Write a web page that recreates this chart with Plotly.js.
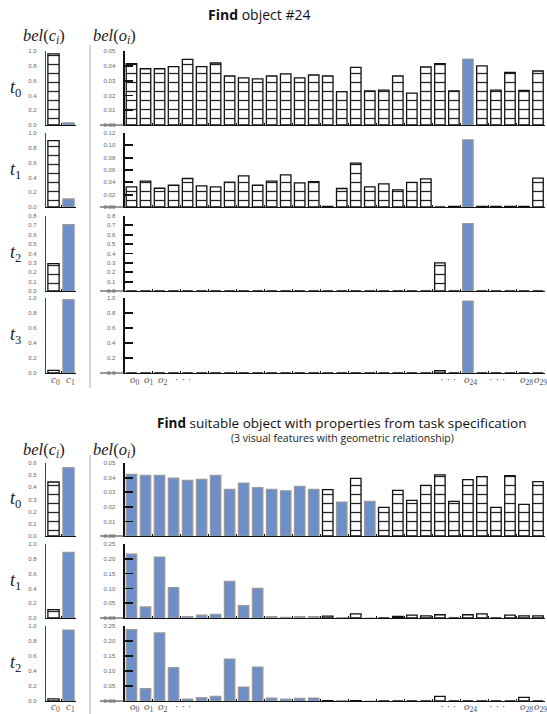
<!DOCTYPE html>
<html><head><meta charset="utf-8">
<script src="https://cdn.plot.ly/plotly-3.0.1.min.js"></script>
<style>html,body{margin:0;padding:0;background:#fff;}</style>
</head><body><div id="chart" style="width:547px;height:714px"></div>
<script>
// ---------- data ----------
const cCategories = ['c0', 'c1'];
const oCategories = ['o0','o1','o2','o3','o4','o5','o6','o7','o8','o9','o10','o11','o12','o13','o14',
                     'o15','o16','o17','o18','o19','o20','o21','o22','o23','o24','o25','o26','o27','o28','o29'];

// "Find object #24"
const topHighlightC = ['c1'];
const topHighlightO = ['o24'];
const topT0C = [0.96, 0.03];
const topT0O = [0.0414,0.038,0.038,0.0394,0.0444,0.0394,0.0419,0.0331,0.0318,0.0311,0.0331,0.0345,0.0318,0.0338,0.0331,
                0.0225,0.039,0.023,0.0236,0.0331,0.0216,0.0392,0.0414,0.023,0.0446,0.040,0.0236,0.0356,0.0234,0.0365];
const topT1C = [0.896, 0.109];
const topT1O = [0.0326,0.0418,0.0304,0.0353,0.0462,0.0342,0.0326,0.0402,0.0505,0.0353,0.0418,0.0521,0.0391,0.0413,0.0008,
                0.030,0.0711,0.0326,0.0375,0.0277,0.040,0.0456,0,0.0008,0.109,0.0008,0.0008,0.0008,0.0008,0.0467];
const topT2C = [0.293, 0.707];
const topT2O = [0,0,0,0,0,0,0,0,0,0,0,0,0,0,0,0,0,0,0,0,0,0,0.30,0,0.718,0,0,0,0,0];
const topT3C = [0.036, 0.977];
const topT3O = [0,0,0,0,0,0,0,0,0,0,0,0,0,0,0,0,0,0,0,0,0,0,0.03,0,0.96,0,0,0,0,0];

// "Find suitable object with properties from task specification"
const botHighlightC = ['c1'];
const botHighlightO = ['o0','o1','o2','o3','o4','o5','o6','o7','o8','o9','o10','o11','o12','o13','o15','o17'];
const botT0C = [0.444, 0.562];
const botT0O = [0.0422,0.0416,0.0416,0.0397,0.0381,0.0388,0.0416,0.032,0.0363,0.0331,0.032,0.031,0.034,0.032,0.0317,
                0.0233,0.0395,0.0237,0.0196,0.0313,0.0244,0.0347,0.0418,0.0237,0.0386,0.0406,0.0196,0.0413,0.0217,0.0372];
const botT1C = [0.114, 0.886];
const botT1O = [0.216,0.0375,0.206,0.103,0.0045,0.010,0.0125,0.124,0.042,0.100,0.0045,0.002,0.0045,0.0045,0.006,
                0.001,0.0136,0,0,0.005,0.010,0.007,0.011,0,0.011,0.0136,0,0.010,0.007,0.007];
const botT2C = [0.027, 0.947];
const botT2O = [0.238,0.041,0.227,0.111,0.0067,0.011,0.0156,0.14,0.0467,0.113,0.01,0.0067,0.009,0.01,0.001,
                0.001,0.001,0,0,0,0,0,0.0156,0,0,0,0,0,0.012,0];

// ---------- layout helpers ----------
const W = 547, H = 714;
const BLUE = '#6d8fc9';
const px = v => v / W;
const py = v => 1 - v / H;

const panels = [
  {label:'0', c:topT0C, o:topT0O, hc:topHighlightC, ho:topHighlightO, top:51,  bot:125, cMax:1.0, cStep:0.2, cFmt:'.1f', oMax:0.05, oStep:0.01, oFmt:'.2f'},
  {label:'1', c:topT1C, o:topT1O, hc:topHighlightC, ho:topHighlightO, top:133, bot:207, cMax:1.0, cStep:0.2, cFmt:'.1f', oMax:0.12, oStep:0.02, oFmt:'.2f'},
  {label:'2', c:topT2C, o:topT2O, hc:topHighlightC, ho:topHighlightO, top:216, bot:291, cMax:0.8, cStep:0.1, cFmt:'.1f', oMax:0.8,  oStep:0.1,  oFmt:'.1f'},
  {label:'3', c:topT3C, o:topT3O, hc:topHighlightC, ho:topHighlightO, top:298, bot:373, cMax:1.0, cStep:0.2, cFmt:'.1f', oMax:1.0,  oStep:0.2,  oFmt:'.1f'},
  {label:'0', c:botT0C, o:botT0O, hc:botHighlightC, ho:botHighlightO, top:463, bot:536, cMax:0.6, cStep:0.1, cFmt:'.1f', oMax:0.05, oStep:0.01, oFmt:'.2f'},
  {label:'1', c:botT1C, o:botT1O, hc:botHighlightC, ho:botHighlightO, top:544, bot:618, cMax:1.0, cStep:0.2, cFmt:'.1f', oMax:0.25, oStep:0.05, oFmt:'.2f'},
  {label:'2', c:botT2C, o:botT2O, hc:botHighlightC, ho:botHighlightO, top:626, bot:701, cMax:1.0, cStep:0.2, cFmt:'.1f', oMax:0.25, oStep:0.05, oFmt:'.2f'}
];

const C_DOM = [px(46), px(76)];
const O_DOM = [px(124.5), px(545)];

function ticks(max, step) {
  const out = [];
  const n = Math.round(max / step);
  for (let i = 0; i <= n; i++) out.push(+(i * step).toFixed(4));
  return out;
}

// two traces per panel: plain (hatched white) and highlighted (blue)
function barTraces(cats, vals, hl, xa, ya) {
  const plainX = [], plainY = [], hlX = [], hlY = [];
  cats.forEach((c, j) => {
    if (hl.includes(c)) { hlX.push(c); hlY.push(vals[j]); }
    else { plainX.push(c); plainY.push(vals[j]); }
  });
  return [
    {type: 'bar', x: plainX, y: plainY, xaxis: xa, yaxis: ya, width: 0.75, showlegend: false,
     marker: {color: '#ffffff', line: {color: '#111111', width: 1.3},
              pattern: {shape: '-', fillmode: 'replace', bgcolor: '#ffffff', fgcolor: '#222222', size: 9, solidity: 0.14}}},
    {type: 'bar', x: hlX, y: hlY, xaxis: xa, yaxis: ya, width: 0.75, showlegend: false,
     marker: {color: BLUE, line: {color: '#9a9a9a', width: 1.2}}}
  ];
}

const data = [];
const layout = {
  width: W, height: H, margin: {l:0, r:0, t:0, b:0},
  paper_bgcolor: '#fff', plot_bgcolor: 'rgba(0,0,0,0)',
  showlegend: false, barmode: 'overlay',
  font: {family: 'Liberation Sans, Arial, sans-serif', size: 6, color: '#555'},
  annotations: [], shapes: []
};

const tickFont = {family: 'Liberation Sans, Arial, sans-serif', size: 6, color: '#666'};

function ann(o) {
  return Object.assign({showarrow: false, xanchor: 'center', yanchor: 'middle'}, o);
}

panels.forEach((p, i) => {
  const kc = 2 * i + 1, ko = 2 * i + 2;
  const yDom = [py(p.bot), py(p.top)];
  data.push(...barTraces(cCategories, p.c, p.hc, 'x' + kc, 'y' + kc));
  data.push(...barTraces(oCategories, p.o, p.ho, 'x' + ko, 'y' + ko));

  const xBase = {type: 'category', showline: true, linecolor: '#111', linewidth: 1.3,
    ticks: 'inside', tickson: 'boundaries', ticklen: 2, tickwidth: 1, tickcolor: '#111',
    showticklabels: false, showgrid: false, zeroline: false, fixedrange: true};
  layout['xaxis' + kc] = Object.assign({}, xBase, {domain: C_DOM, anchor: 'y' + kc, range: [-0.5, 1.5],
    categoryorder: 'array', categoryarray: cCategories});
  layout['xaxis' + ko] = Object.assign({}, xBase, {domain: O_DOM, anchor: 'y' + ko, range: [-0.5, 29.5],
    categoryorder: 'array', categoryarray: oCategories});

  layout['yaxis' + kc] = {domain: yDom, anchor: 'x' + kc, range: [0, p.cMax],
    tickvals: ticks(p.cMax, p.cStep), tickformat: p.cFmt, ticks: '', showline: true,
    linecolor: '#444', linewidth: 1.2, showgrid: false, zeroline: false, tickfont: tickFont,
    ticklabelstandoff: 7, fixedrange: true};
  layout['yaxis' + ko] = {domain: yDom, anchor: 'x' + ko, range: [0, p.oMax],
    tickvals: ticks(p.oMax, p.oStep), tickformat: p.oFmt, ticks: 'inside', ticklen: 8,
    tickwidth: 1.8, tickcolor: '#111', showline: true, linecolor: '#111', linewidth: 2,
    showgrid: false, zeroline: false, tickfont: tickFont, ticklabelstandoff: 6, fixedrange: true};

  // x-axis line extending left of the object panel
  layout.shapes.push({type: 'line', xref: 'paper', yref: 'paper', x0: px(100), x1: px(125),
    y0: py(p.bot), y1: py(p.bot), line: {color: '#333', width: 1}});

  // t label
  layout.annotations.push(ann({xref: 'paper', yref: 'paper', x: px(15), y: py((p.top + p.bot) / 2),
    text: '<i>t</i><sub>' + p.label + '</sub>',
    font: {family: 'Liberation Serif, DejaVu Serif, serif', size: 18, color: '#222'}}));
});

const serif = {family: 'Liberation Serif, DejaVu Serif, serif', size: 16.5, color: '#222'};
const labelFont = {family: 'Liberation Serif, DejaVu Serif, serif', size: 11, color: '#555'};
const sans = 'Open Sans, Liberation Sans, sans-serif';

// titles
layout.annotations.push(
  ann({xref:'paper', yref:'paper', x:px(259), y:py(14), text:'<b>Find</b> object #24',
   font:{family:sans, size:14, color:'#111'}}),
  ann({xref:'paper', yref:'paper', x:px(342), y:py(423), text:'<b>Find</b> suitable object with properties from task specification',
   font:{family:sans, size:13.5, color:'#111'}}),
  ann({xref:'paper', yref:'paper', x:px(342), y:py(437.5), text:'(3 visual features with geometric relationship)',
   font:{family:sans, size:10.5, color:'#222'}})
);

// bel headers
[36, 450].forEach(y => {
  layout.annotations.push(
    ann({xref:'paper', yref:'paper', x:px(44), y:py(y), text:'<i>bel</i>(<i>c<sub>i</sub></i>)', font:serif}),
    ann({xref:'paper', yref:'paper', x:px(114), y:py(y), text:'<i>bel</i>(<i>o<sub>i</sub></i>)', font:serif})
  );
});

// separators
[[45, 388], [455, 714]].forEach(([a, b]) => {
  layout.shapes.push({type:'line', xref:'paper', yref:'paper', x0:px(90), x1:px(90), y0:py(a), y1:py(b),
    line:{color:'#aaa', width:1}});
});

// category labels under the last panel of each block
const cLabelList = ['c0', 'c1'];
const oLabelList = ['o0', 'o1', 'o2', 'o24', 'o28', 'o29'];
const dotsPos = [3.7, 22.6, 26.1];
[[4, 380], [7, 707]].forEach(([k, y]) => {
  const kc = 2 * (k - 1) + 1, ko = 2 * (k - 1) + 2;
  cLabelList.forEach(c => layout.annotations.push(ann({xref:'x' + kc, yref:'paper', x:c, y:py(y),
    text:'<i>' + c[0] + '</i><sub>' + c.slice(1) + '</sub>', xshift:2, font:labelFont})));
  oLabelList.forEach(o => layout.annotations.push(ann({xref:'x' + ko, yref:'paper', x:o, y:py(y),
    text:'<i>' + o[0] + '</i><sub>' + o.slice(1) + '</sub>', xshift:3, font:labelFont})));
  dotsPos.forEach(d => layout.annotations.push(ann({xref:'x' + ko, yref:'paper', x:d, y:py(y - 1),
    text:'· · ·', font:labelFont})));
});

Plotly.newPlot('chart', data, layout, {staticPlot: true, displayModeBar: false});
</script>
</body></html>
